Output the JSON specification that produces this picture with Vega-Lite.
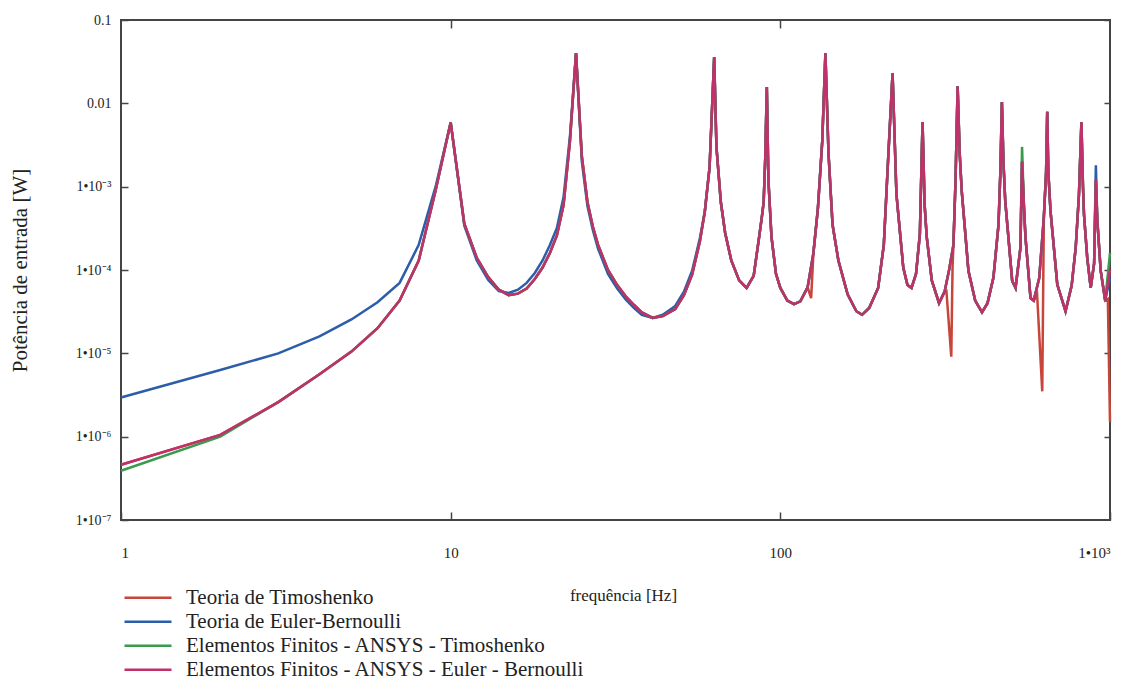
{
  "$schema": "https://vega.github.io/schema/vega-lite/v6.json",
  "width": 989,
  "height": 500,
  "autosize": {"type": "none"},
  "padding": {"left": 121, "top": 20, "right": 21, "bottom": 162},
  "background": "white",
  "config": {
    "view": {"stroke": "#444", "strokeWidth": 2},
    "font": "Liberation Serif",
    "axis": {"domain": false, "grid": false, "tickColor": "#444", "tickWidth": 1.5, "labelColor": "#222", "labelFont": "Liberation Serif", "titleFont": "Liberation Serif", "titleColor": "#222", "titleFontWeight": "normal"},
    "legend": {"orient": "none", "legendX": 2, "legendY": 566, "symbolType": "stroke", "symbolSize": 2209, "symbolStrokeWidth": 2.5, "clipHeight": 23.5, "rowPadding": 0, "labelFont": "Liberation Serif", "labelFontSize": 21, "labelColor": "#222", "labelOffset": 13, "padding": 0, "labelLimit": 800}
  },
  "datasets": {
    "timo": [
      {"f":1,"p":4.6e-7},{"f":2,"p":1.05e-6},{"f":3,"p":2.6e-6},{"f":4,"p":5.6e-6},{"f":5,"p":1.05e-5},{"f":6,"p":2.0e-5},{"f":7,"p":4.3e-5},{"f":8,"p":1.3e-4},{"f":9,"p":9.0e-4},{"f":10,"p":5.9e-3},
      {"f":11,"p":3.6e-4},{"f":12,"p":1.4e-4},{"f":13,"p":8.2e-5},{"f":14,"p":5.8e-5},{"f":15,"p":5.0e-5},{"f":16,"p":5.2e-5},{"f":17,"p":6.0e-5},{"f":18,"p":7.8e-5},{"f":19,"p":1.07e-4},{"f":20,"p":1.6e-4},
      {"f":21,"p":2.6e-4},{"f":22,"p":6.0e-4},{"f":23,"p":3.5e-3},{"f":24,"p":0.04},{"f":25,"p":2.3e-3},{"f":26,"p":6.5e-4},{"f":27,"p":3.3e-4},{"f":28,"p":2.0e-4},{"f":30,"p":1.0e-4},{"f":32,"p":6.6e-5},
      {"f":34,"p":4.8e-5},{"f":36,"p":3.8e-5},{"f":38,"p":3.1e-5},{"f":41,"p":2.66e-5},{"f":44,"p":2.8e-5},{"f":48,"p":3.4e-5},{"f":51,"p":5.0e-5},{"f":54,"p":8.8e-5},{"f":57,"p":2.2e-4},{"f":59,"p":5.0e-4},
      {"f":61,"p":1.7e-3},{"f":63,"p":0.036},{"f":64,"p":3.0e-3},{"f":66,"p":6.5e-4},{"f":68,"p":2.8e-4},{"f":71,"p":1.3e-4},{"f":75,"p":7.5e-5},{"f":79,"p":6.1e-5},{"f":83,"p":8.5e-5},{"f":86,"p":2.3e-4},
      {"f":88,"p":4.5e-4},{"f":89,"p":6.5e-4},{"f":90,"p":2.2e-3},{"f":91,"p":0.0157},{"f":92,"p":1.2e-3},{"f":94,"p":2.5e-4},{"f":97,"p":9.0e-5},{"f":100,"p":6.1e-5},{"f":105,"p":4.3e-5},{"f":110,"p":3.9e-5},
      {"f":115,"p":4.2e-5},{"f":121,"p":6.2e-5},{"f":124,"p":4.6e-5},{"f":126,"p":1.6e-4},{"f":130,"p":5.5e-4},{"f":134,"p":3.5e-3},{"f":137,"p":0.04},{"f":140,"p":2.5e-3},{"f":144,"p":3.5e-4},{"f":150,"p":1.3e-4},
      {"f":160,"p":5.1e-5},{"f":170,"p":3.2e-5},{"f":177,"p":2.9e-5},{"f":186,"p":3.5e-5},{"f":198,"p":6.1e-5},{"f":206,"p":2.0e-4},{"f":212,"p":1.9e-3},{"f":219,"p":0.023},{"f":225,"p":8.1e-4},{"f":236,"p":1.07e-4},
      {"f":243,"p":6.6e-5},{"f":250,"p":6.1e-5},{"f":258,"p":9.0e-5},{"f":265,"p":2.7e-4},{"f":270,"p":5.96e-3},{"f":274,"p":6.0e-4},{"f":278,"p":2.5e-4},{"f":288,"p":7.5e-5},{"f":303,"p":4.0e-5},{"f":315,"p":5.5e-5},
      {"f":319,"p":5.6e-5},{"f":330,"p":9.1e-6},{"f":333,"p":1.1e-4},{"f":335,"p":2.0e-4},{"f":340,"p":1.2e-3},{"f":345,"p":0.016},{"f":350,"p":2.5e-3},{"f":355,"p":8.9e-4},{"f":372,"p":9.8e-5},{"f":390,"p":4.3e-5},
      {"f":409,"p":3.1e-5},{"f":425,"p":4.0e-5},{"f":443,"p":8.1e-5},{"f":459,"p":3.5e-4},{"f":465,"p":1.5e-3},{"f":470,"p":0.0104},{"f":475,"p":2.0e-3},{"f":481,"p":6.8e-4},{"f":505,"p":7.4e-5},{"f":517,"p":6.1e-5},
      {"f":535,"p":1.85e-4},{"f":541,"p":2.0e-3},{"f":548,"p":6.0e-4},{"f":554,"p":2.5e-4},{"f":574,"p":4.6e-5},{"f":587,"p":4.3e-5},{"f":601,"p":5.1e-5},{"f":623,"p":3.5e-6},{"f":630,"p":4.3e-4},{"f":640,"p":1.5e-3},
      {"f":645,"p":7.9e-3},{"f":650,"p":1.5e-3},{"f":660,"p":5.1e-4},{"f":692,"p":6.7e-5},{"f":733,"p":3.2e-5},{"f":765,"p":6.5e-5},{"f":787,"p":1.85e-4},{"f":805,"p":8.0e-4},{"f":819,"p":5.96e-3},{"f":828,"p":1.0e-3},
      {"f":834,"p":4.6e-4},{"f":853,"p":1.4e-4},{"f":874,"p":6.1e-5},{"f":895,"p":1.2e-4},{"f":906,"p":1.2e-3},{"f":915,"p":4.0e-4},{"f":937,"p":9.8e-5},{"f":967,"p":4.3e-5},{"f":985,"p":4.5e-5},{"f":1000,"p":1.5e-6}
    ],
    "eb": [
      {"f":1,"p":2.95e-6},{"f":2,"p":6.3e-6},{"f":3,"p":1.0e-5},{"f":4,"p":1.6e-5},{"f":5,"p":2.55e-5},{"f":6,"p":4.1e-5},{"f":7,"p":7.0e-5},{"f":8,"p":2.0e-4},{"f":9,"p":1.0e-3},{"f":10,"p":5.9e-3},
      {"f":11,"p":3.4e-4},{"f":12,"p":1.3e-4},{"f":13,"p":7.6e-5},{"f":14,"p":5.6e-5},{"f":15,"p":5.3e-5},{"f":16,"p":5.8e-5},{"f":17,"p":7.0e-5},{"f":18,"p":9.2e-5},{"f":19,"p":1.3e-4},{"f":20,"p":2.0e-4},
      {"f":21,"p":3.2e-4},{"f":22,"p":7.5e-4},{"f":23,"p":4.0e-3},{"f":24,"p":0.04},{"f":25,"p":2.0e-3},{"f":26,"p":5.8e-4},{"f":27,"p":3.0e-4},{"f":28,"p":1.8e-4},{"f":30,"p":9.0e-5},{"f":32,"p":6.0e-5},
      {"f":34,"p":4.4e-5},{"f":36,"p":3.5e-5},{"f":38,"p":2.9e-5},{"f":41,"p":2.65e-5},{"f":44,"p":2.9e-5},{"f":48,"p":3.7e-5},{"f":51,"p":5.5e-5},{"f":54,"p":9.8e-5},{"f":57,"p":2.4e-4},{"f":59,"p":5.0e-4},
      {"f":61,"p":1.7e-3},{"f":63,"p":0.036},{"f":64,"p":3.0e-3},{"f":66,"p":6.5e-4},{"f":68,"p":2.8e-4},{"f":71,"p":1.3e-4},{"f":75,"p":7.5e-5},{"f":79,"p":6.1e-5},{"f":83,"p":8.5e-5},{"f":86,"p":2.3e-4},
      {"f":88,"p":4.5e-4},{"f":89,"p":6.5e-4},{"f":90,"p":2.2e-3},{"f":91,"p":0.0157},{"f":92,"p":1.2e-3},{"f":94,"p":2.5e-4},{"f":97,"p":9.0e-5},{"f":100,"p":6.1e-5},{"f":105,"p":4.3e-5},{"f":110,"p":3.9e-5},
      {"f":115,"p":4.2e-5},{"f":121,"p":6.2e-5},{"f":126,"p":1.6e-4},{"f":130,"p":5.5e-4},{"f":134,"p":3.5e-3},{"f":137,"p":0.04},{"f":140,"p":2.5e-3},{"f":144,"p":3.5e-4},{"f":150,"p":1.3e-4},
      {"f":160,"p":5.1e-5},{"f":170,"p":3.2e-5},{"f":177,"p":2.9e-5},{"f":186,"p":3.5e-5},{"f":198,"p":6.1e-5},{"f":206,"p":2.0e-4},{"f":212,"p":1.9e-3},{"f":219,"p":0.023},{"f":225,"p":8.1e-4},{"f":236,"p":1.07e-4},
      {"f":243,"p":6.6e-5},{"f":250,"p":6.1e-5},{"f":258,"p":9.0e-5},{"f":265,"p":2.7e-4},{"f":270,"p":5.96e-3},{"f":274,"p":6.0e-4},{"f":278,"p":2.5e-4},{"f":288,"p":7.5e-5},{"f":303,"p":4.0e-5},{"f":315,"p":5.5e-5},
      {"f":325,"p":1.0e-4},{"f":335,"p":2.0e-4},{"f":340,"p":1.2e-3},{"f":345,"p":0.016},{"f":350,"p":2.5e-3},{"f":355,"p":8.9e-4},{"f":372,"p":9.8e-5},{"f":390,"p":4.3e-5},
      {"f":409,"p":3.1e-5},{"f":425,"p":4.0e-5},{"f":443,"p":8.1e-5},{"f":459,"p":3.5e-4},{"f":465,"p":1.5e-3},{"f":470,"p":0.0104},{"f":475,"p":2.0e-3},{"f":481,"p":6.8e-4},{"f":505,"p":7.4e-5},{"f":517,"p":6.1e-5},
      {"f":535,"p":1.85e-4},{"f":541,"p":2.0e-3},{"f":548,"p":6.0e-4},{"f":554,"p":2.5e-4},{"f":574,"p":4.6e-5},{"f":587,"p":4.3e-5},{"f":610,"p":8.0e-5},{"f":630,"p":4.3e-4},{"f":640,"p":1.5e-3},
      {"f":645,"p":7.9e-3},{"f":650,"p":1.5e-3},{"f":660,"p":5.1e-4},{"f":692,"p":6.7e-5},{"f":733,"p":3.2e-5},{"f":765,"p":6.5e-5},{"f":787,"p":1.85e-4},{"f":805,"p":8.0e-4},{"f":819,"p":5.96e-3},{"f":828,"p":1.0e-3},
      {"f":834,"p":4.6e-4},{"f":853,"p":1.4e-4},{"f":874,"p":6.1e-5},{"f":895,"p":1.2e-4},{"f":906,"p":1.8e-3},{"f":915,"p":4.0e-4},{"f":937,"p":9.8e-5},{"f":967,"p":4.3e-5},{"f":1000,"p":8.0e-5}
    ],
    "ansysT": [
      {"f":1,"p":3.9e-7},{"f":2,"p":1.0e-6},{"f":3,"p":2.6e-6},{"f":4,"p":5.6e-6},{"f":5,"p":1.05e-5},{"f":6,"p":2.0e-5},{"f":7,"p":4.3e-5},{"f":8,"p":1.3e-4},{"f":9,"p":9.0e-4},{"f":10,"p":5.9e-3},
      {"f":11,"p":3.6e-4},{"f":12,"p":1.4e-4},{"f":13,"p":8.2e-5},{"f":14,"p":5.8e-5},{"f":15,"p":5.0e-5},{"f":16,"p":5.2e-5},{"f":17,"p":6.0e-5},{"f":18,"p":7.8e-5},{"f":19,"p":1.07e-4},{"f":20,"p":1.6e-4},
      {"f":21,"p":2.6e-4},{"f":22,"p":6.0e-4},{"f":23,"p":3.5e-3},{"f":24,"p":0.04},{"f":25,"p":2.3e-3},{"f":26,"p":6.5e-4},{"f":27,"p":3.3e-4},{"f":28,"p":2.0e-4},{"f":30,"p":1.0e-4},{"f":32,"p":6.6e-5},
      {"f":34,"p":4.8e-5},{"f":36,"p":3.8e-5},{"f":38,"p":3.1e-5},{"f":41,"p":2.66e-5},{"f":44,"p":2.8e-5},{"f":48,"p":3.4e-5},{"f":51,"p":5.0e-5},{"f":54,"p":8.8e-5},{"f":57,"p":2.2e-4},{"f":59,"p":5.0e-4},
      {"f":61,"p":1.7e-3},{"f":63,"p":0.036},{"f":64,"p":3.0e-3},{"f":66,"p":6.5e-4},{"f":68,"p":2.8e-4},{"f":71,"p":1.3e-4},{"f":75,"p":7.5e-5},{"f":79,"p":6.1e-5},{"f":83,"p":8.5e-5},{"f":86,"p":2.3e-4},
      {"f":88,"p":4.5e-4},{"f":89,"p":6.5e-4},{"f":90,"p":2.2e-3},{"f":91,"p":0.0157},{"f":92,"p":1.2e-3},{"f":94,"p":2.5e-4},{"f":97,"p":9.0e-5},{"f":100,"p":6.1e-5},{"f":105,"p":4.3e-5},{"f":110,"p":3.9e-5},
      {"f":115,"p":4.2e-5},{"f":121,"p":6.2e-5},{"f":126,"p":1.6e-4},{"f":130,"p":5.5e-4},{"f":134,"p":3.5e-3},{"f":137,"p":0.04},{"f":140,"p":2.5e-3},{"f":144,"p":3.5e-4},{"f":150,"p":1.3e-4},
      {"f":160,"p":5.1e-5},{"f":170,"p":3.2e-5},{"f":177,"p":2.9e-5},{"f":186,"p":3.5e-5},{"f":198,"p":6.1e-5},{"f":206,"p":2.0e-4},{"f":212,"p":1.9e-3},{"f":219,"p":0.023},{"f":225,"p":8.1e-4},{"f":236,"p":1.07e-4},
      {"f":243,"p":6.6e-5},{"f":250,"p":6.1e-5},{"f":258,"p":9.0e-5},{"f":265,"p":2.7e-4},{"f":270,"p":5.96e-3},{"f":274,"p":6.0e-4},{"f":278,"p":2.5e-4},{"f":288,"p":7.5e-5},{"f":303,"p":4.0e-5},{"f":315,"p":5.5e-5},
      {"f":325,"p":1.0e-4},{"f":335,"p":2.0e-4},{"f":340,"p":1.2e-3},{"f":345,"p":0.016},{"f":350,"p":2.5e-3},{"f":355,"p":8.9e-4},{"f":372,"p":9.8e-5},{"f":390,"p":4.3e-5},
      {"f":409,"p":3.1e-5},{"f":425,"p":4.0e-5},{"f":443,"p":8.1e-5},{"f":459,"p":3.5e-4},{"f":465,"p":1.5e-3},{"f":470,"p":0.0104},{"f":475,"p":2.0e-3},{"f":481,"p":6.8e-4},{"f":505,"p":7.4e-5},{"f":517,"p":6.1e-5},
      {"f":535,"p":1.85e-4},{"f":541,"p":3.0e-3},{"f":548,"p":6.0e-4},{"f":554,"p":2.5e-4},{"f":574,"p":4.6e-5},{"f":587,"p":4.3e-5},{"f":610,"p":8.0e-5},{"f":630,"p":4.3e-4},{"f":640,"p":1.5e-3},
      {"f":645,"p":7.9e-3},{"f":650,"p":1.5e-3},{"f":660,"p":5.1e-4},{"f":692,"p":6.7e-5},{"f":733,"p":3.2e-5},{"f":765,"p":6.5e-5},{"f":787,"p":1.85e-4},{"f":805,"p":8.0e-4},{"f":819,"p":5.96e-3},{"f":828,"p":1.0e-3},
      {"f":834,"p":4.6e-4},{"f":853,"p":1.4e-4},{"f":874,"p":6.1e-5},{"f":895,"p":1.2e-4},{"f":906,"p":1.2e-3},{"f":915,"p":4.0e-4},{"f":937,"p":9.8e-5},{"f":967,"p":4.3e-5},{"f":1000,"p":1.6e-4}
    ],
    "ansysEB": [
      {"f":1,"p":4.6e-7},{"f":2,"p":1.05e-6},{"f":3,"p":2.6e-6},{"f":4,"p":5.6e-6},{"f":5,"p":1.05e-5},{"f":6,"p":2.0e-5},{"f":7,"p":4.3e-5},{"f":8,"p":1.3e-4},{"f":9,"p":9.0e-4},{"f":10,"p":5.9e-3},
      {"f":11,"p":3.6e-4},{"f":12,"p":1.4e-4},{"f":13,"p":8.2e-5},{"f":14,"p":5.8e-5},{"f":15,"p":5.0e-5},{"f":16,"p":5.2e-5},{"f":17,"p":6.0e-5},{"f":18,"p":7.8e-5},{"f":19,"p":1.07e-4},{"f":20,"p":1.6e-4},
      {"f":21,"p":2.6e-4},{"f":22,"p":6.0e-4},{"f":23,"p":3.5e-3},{"f":24,"p":0.04},{"f":25,"p":2.3e-3},{"f":26,"p":6.5e-4},{"f":27,"p":3.3e-4},{"f":28,"p":2.0e-4},{"f":30,"p":1.0e-4},{"f":32,"p":6.6e-5},
      {"f":34,"p":4.8e-5},{"f":36,"p":3.8e-5},{"f":38,"p":3.1e-5},{"f":41,"p":2.66e-5},{"f":44,"p":2.8e-5},{"f":48,"p":3.4e-5},{"f":51,"p":5.0e-5},{"f":54,"p":8.8e-5},{"f":57,"p":2.2e-4},{"f":59,"p":5.0e-4},
      {"f":61,"p":1.7e-3},{"f":63,"p":0.036},{"f":64,"p":3.0e-3},{"f":66,"p":6.5e-4},{"f":68,"p":2.8e-4},{"f":71,"p":1.3e-4},{"f":75,"p":7.5e-5},{"f":79,"p":6.1e-5},{"f":83,"p":8.5e-5},{"f":86,"p":2.3e-4},
      {"f":88,"p":4.5e-4},{"f":89,"p":6.5e-4},{"f":90,"p":2.2e-3},{"f":91,"p":0.0157},{"f":92,"p":1.2e-3},{"f":94,"p":2.5e-4},{"f":97,"p":9.0e-5},{"f":100,"p":6.1e-5},{"f":105,"p":4.3e-5},{"f":110,"p":3.9e-5},
      {"f":115,"p":4.2e-5},{"f":121,"p":6.2e-5},{"f":126,"p":1.6e-4},{"f":130,"p":5.5e-4},{"f":134,"p":3.5e-3},{"f":137,"p":0.04},{"f":140,"p":2.5e-3},{"f":144,"p":3.5e-4},{"f":150,"p":1.3e-4},
      {"f":160,"p":5.1e-5},{"f":170,"p":3.2e-5},{"f":177,"p":2.9e-5},{"f":186,"p":3.5e-5},{"f":198,"p":6.1e-5},{"f":206,"p":2.0e-4},{"f":212,"p":1.9e-3},{"f":219,"p":0.023},{"f":225,"p":8.1e-4},{"f":236,"p":1.07e-4},
      {"f":243,"p":6.6e-5},{"f":250,"p":6.1e-5},{"f":258,"p":9.0e-5},{"f":265,"p":2.7e-4},{"f":270,"p":5.96e-3},{"f":274,"p":6.0e-4},{"f":278,"p":2.5e-4},{"f":288,"p":7.5e-5},{"f":303,"p":4.0e-5},{"f":315,"p":5.5e-5},
      {"f":325,"p":1.0e-4},{"f":335,"p":2.0e-4},{"f":340,"p":1.2e-3},{"f":345,"p":0.016},{"f":350,"p":2.5e-3},{"f":355,"p":8.9e-4},{"f":372,"p":9.8e-5},{"f":390,"p":4.3e-5},
      {"f":409,"p":3.1e-5},{"f":425,"p":4.0e-5},{"f":443,"p":8.1e-5},{"f":459,"p":3.5e-4},{"f":465,"p":1.5e-3},{"f":470,"p":0.0104},{"f":475,"p":2.0e-3},{"f":481,"p":6.8e-4},{"f":505,"p":7.4e-5},{"f":517,"p":6.1e-5},
      {"f":535,"p":1.85e-4},{"f":541,"p":2.0e-3},{"f":548,"p":6.0e-4},{"f":554,"p":2.5e-4},{"f":574,"p":4.6e-5},{"f":587,"p":4.3e-5},{"f":610,"p":8.0e-5},{"f":630,"p":4.3e-4},{"f":640,"p":1.5e-3},
      {"f":645,"p":7.9e-3},{"f":650,"p":1.5e-3},{"f":660,"p":5.1e-4},{"f":692,"p":6.7e-5},{"f":733,"p":3.2e-5},{"f":765,"p":6.5e-5},{"f":787,"p":1.85e-4},{"f":805,"p":8.0e-4},{"f":819,"p":5.96e-3},{"f":828,"p":1.0e-3},
      {"f":834,"p":4.6e-4},{"f":853,"p":1.4e-4},{"f":874,"p":6.1e-5},{"f":895,"p":1.2e-4},{"f":906,"p":1.2e-3},{"f":915,"p":4.0e-4},{"f":937,"p":9.8e-5},{"f":967,"p":4.3e-5},{"f":1000,"p":1.0e-4}
    ]
  },
  "resolve": {"scale": {"x": "independent", "y": "independent"}},
  "layer": [
    {
      "layer": [
        {
          "data": {"name": "timo"},
          "mark": {"type": "line", "strokeWidth": 2.5},
          "encoding": {
            "x": {"field": "f", "type": "quantitative", "scale": {"type": "log", "domain": [1, 1000]},
              "axis": {"orient": "bottom", "values": [1, 10, 100, 1000], "tickSize": -8, "labelPadding": 40, "labelBaseline": "middle", "labelFontSize": 15, "labelExpr": "datum.value >= 1000 ? '1•10³' : '' + datum.value", "title": "frequência [Hz]", "titleFontSize": 17, "titleX": 502, "titleY": 75, "titleBaseline": "middle", "titleAlign": "center"}},
            "y": {"field": "p", "type": "quantitative", "scale": {"type": "log", "domain": [1e-7, 0.1]},
              "axis": {"orient": "left", "values": [1e-7, 1e-6, 1e-5, 1e-4, 1e-3, 0.01, 0.1], "tickSize": -7, "labelPadding": 17, "labelFontSize": 14, "labelExpr": "datum.value > 0.05 ? '0.1' : datum.value > 0.005 ? '0.01' : datum.value > 0.0005 ? '1•10⁻³' : datum.value > 0.00005 ? '1•10⁻⁴' : datum.value > 0.000005 ? '1•10⁻⁵' : datum.value > 0.0000005 ? '1•10⁻⁶' : '1•10⁻⁷'", "title": "Potência de entrada [W]", "titleFontSize": 21, "titleX": -101, "titleY": 250, "titleAngle": 270, "titleBaseline": "middle", "titleAlign": "center"}},
            "color": {"datum": "Teoria de Timoshenko", "type": "nominal",
              "scale": {"domain": ["Teoria de Timoshenko", "Teoria de Euler-Bernoulli", "Elementos Finitos - ANSYS - Timoshenko", "Elementos Finitos - ANSYS - Euler - Bernoulli"], "range": ["#c8453a", "#2b5da8", "#3a9a4c", "#c0306a"]},
              "legend": {"title": null}}
          }
        },
        {
          "data": {"name": "eb"},
          "mark": {"type": "line", "strokeWidth": 2.5},
          "encoding": {
            "x": {"field": "f", "type": "quantitative"},
            "y": {"field": "p", "type": "quantitative"},
            "color": {"datum": "Teoria de Euler-Bernoulli", "type": "nominal"}
          }
        },
        {
          "data": {"name": "ansysT"},
          "mark": {"type": "line", "strokeWidth": 2.5},
          "encoding": {
            "x": {"field": "f", "type": "quantitative"},
            "y": {"field": "p", "type": "quantitative"},
            "color": {"datum": "Elementos Finitos - ANSYS - Timoshenko", "type": "nominal"}
          }
        },
        {
          "data": {"name": "ansysEB"},
          "mark": {"type": "line", "strokeWidth": 2.5},
          "encoding": {
            "x": {"field": "f", "type": "quantitative"},
            "y": {"field": "p", "type": "quantitative"},
            "color": {"datum": "Elementos Finitos - ANSYS - Euler - Bernoulli", "type": "nominal"}
          }
        }
      ]
    },
    {
      "data": {"name": "ansysEB"},
      "mark": {"type": "line", "opacity": 0},
      "encoding": {
        "x": {"field": "f", "type": "quantitative", "scale": {"type": "log", "domain": [1, 1000]},
          "axis": {"orient": "top", "values": [10, 100], "tickSize": -8, "labels": false, "title": null}},
        "y": {"field": "p", "type": "quantitative", "scale": {"type": "log", "domain": [1e-7, 0.1]},
          "axis": {"orient": "right", "values": [1e-6, 1e-5, 1e-4, 1e-3, 0.01, 0.1], "tickSize": -6, "labels": false, "title": null}}
      }
    }
  ]
}
